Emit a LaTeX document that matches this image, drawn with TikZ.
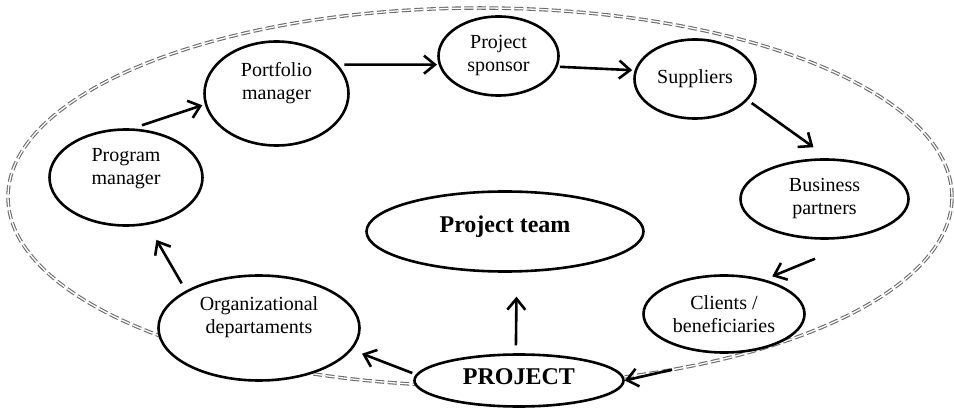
\documentclass[tikz,border=0pt]{standalone}
\usepackage{fontspec}
\setmainfont{Liberation Serif}
\usetikzlibrary{shapes.geometric,arrows.meta,calc}
\begin{document}
\begin{tikzpicture}[x=1pt,y=-1pt,
  actor/.style={ellipse, draw=black, line width=2.6pt, fill=white, inner sep=0pt,
    align=center, font=\fontsize{20}{23}\selectfont},
  core/.style={actor, font=\fontsize{24}{28}\selectfont\bfseries, text height=16pt},
  flow/.style={line width=2.6pt, -{Straight Barb[length=11pt,width=18pt]}},
  boundary/.style={draw=gray!85!black, line width=1.1pt, double=white, double distance=1.3pt,
    dash pattern=on 9pt off 3.5pt}]
\useasboundingbox (0,0) rectangle (954,409);

% environment of the project
\draw[boundary] (480,197) ellipse [x radius=472pt, y radius=189pt];

% stakeholders (a deep strut lifts some labels above the middle)
\node[actor, minimum width=153pt, minimum height=96pt] (prog) at (126,177.5)
  {Program\\manager\rule[-22pt]{0pt}{1pt}};
\node[actor, minimum width=144pt, minimum height=104pt] (port) at (276.5,93.5)
  {Portfolio\\manager\rule[-26pt]{0pt}{1pt}};
\node[actor, minimum width=120pt, minimum height=79pt] (spon) at (498.5,56)
  {Project\\sponsor};
\node[actor, minimum width=121pt, minimum height=79pt] (supp) at (695,79)
  {Suppliers};
\node[actor, minimum width=168pt, minimum height=79pt] (bus) at (824.5,199)
  {Business\\partners};
\node[actor, minimum width=161pt, minimum height=77pt] (cli) at (724,314)
  {Clients /\\beneficiaries};
\node[actor, minimum width=201pt, minimum height=105pt] (org) at (259,328)
  {Organizational\\departaments\rule[-26pt]{0pt}{1pt}};
\node[core, text depth=9pt, minimum width=209pt, minimum height=52pt] (proj) at (519,380.5)
  {PROJECT};
\node[core, text depth=13pt, minimum width=277pt, minimum height=80pt] (team) at (505,231.5)
  {Project team};

% relations between the stakeholders
\draw[flow] ($(prog.center)!1.08!(prog.73)$) -- ($(port.center)!1.036!(port.189)$);
\draw[flow] ($(port.center)!1.074!(port.23)$) -- ($(spon.center)!1.025!(spon.188)$);
\draw[flow] ($(spon.center)!1.035!(spon.350)$) -- ($(supp.center)!1.039!(supp.172)$);
\draw[flow] ($(supp.center)!1.09!(supp.337)$) -- ($(bus.center)!1.276!(bus.102)$);
\draw[flow] ($(bus.center)!1.468!(bus.261)$) -- ($(cli.center)!1.116!(cli.38)$);
\draw[flow] ($(cli.center)!1.536!(cli.227)$) -- (proj.east);
\draw[flow] ($(proj.center)!1.045!(proj.176)$) -- ($(org.center)!1.119!(org.346)$);
\draw[flow] ($(org.center)!1.125!(org.150)$) -- ($(prog.center)!1.324!(prog.296)$);
\draw[flow] ($(proj.center)!1.291!(proj.95)$) -- ($(team.center)!1.58!(team.280)$);
\end{tikzpicture}
\end{document}
